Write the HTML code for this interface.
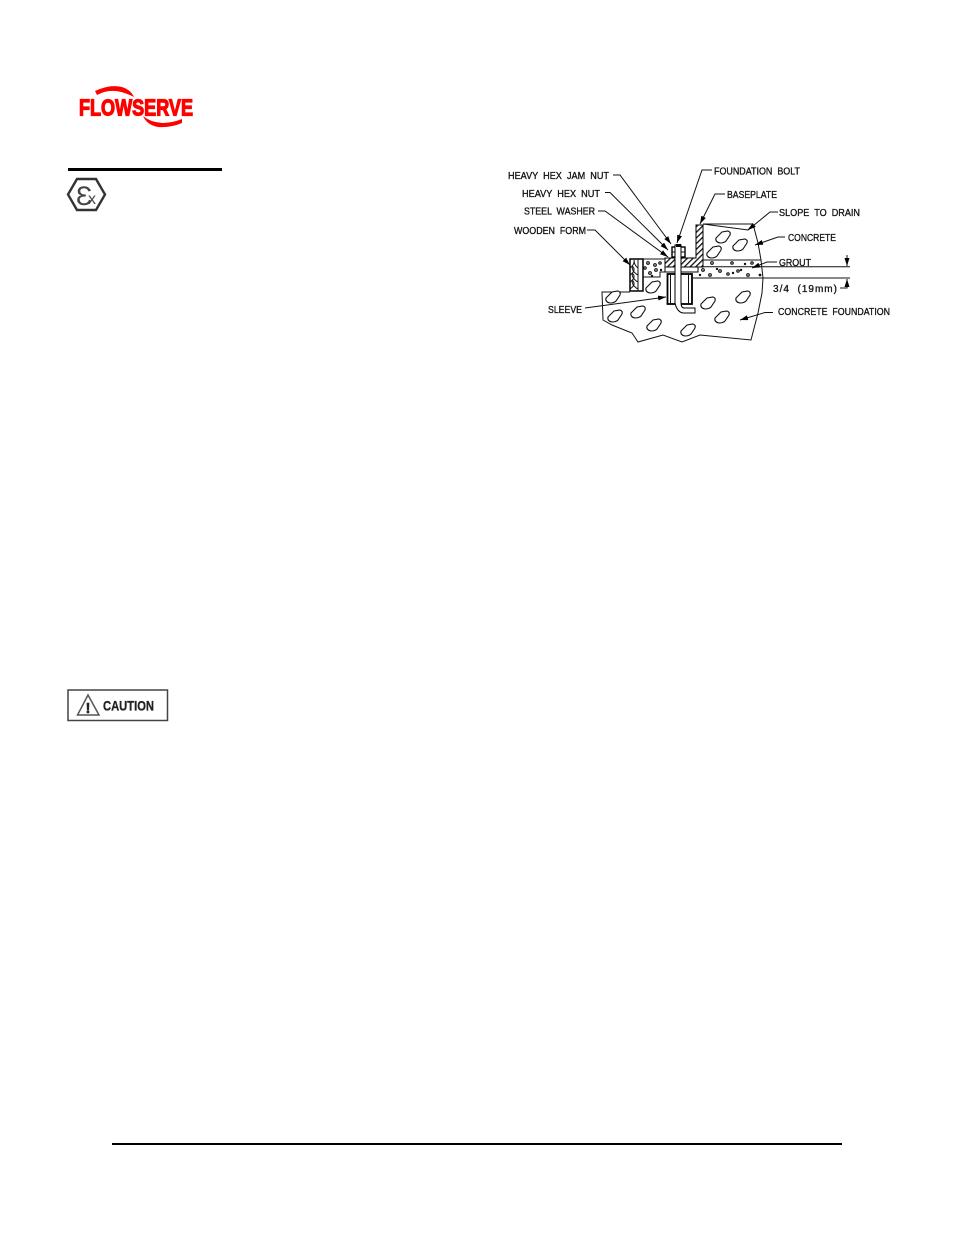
<!DOCTYPE html>
<html><head><meta charset="utf-8"><style>
html,body{margin:0;padding:0;background:#fff}
svg{display:block}
.l{font:10px "Liberation Sans",sans-serif;fill:#111;stroke:#111;stroke-width:.3}
.d{fill:none;stroke:#111;stroke-width:1}
</style></head><body>
<svg width="954" height="1235" viewBox="0 0 954 1235" xmlns="http://www.w3.org/2000/svg">
<defs>
<marker id="a" markerUnits="userSpaceOnUse" markerWidth="9" markerHeight="6" refX="8" refY="2.5" orient="auto"><path d="M0 0L8 2.5L0 5Z" fill="#000"/></marker>
<path id="r" d="M-7 1L-1-5L5-6Q8-5 7-2L3 4Q1 6-3 6Q-8 5-7 1Z" fill="#fff" stroke="#111" stroke-width="1.100"/>
<pattern id="h" width="4" height="4" patternUnits="userSpaceOnUse" patternTransform="rotate(-45)"><rect width="4" height="4" fill="#fff"/><rect width="4" height="1.300" fill="#111"/></pattern>
</defs>
<rect width="954" height="1235" fill="#fff"/>

<!-- logo -->
<text x="79" y="115.500" font-family="Liberation Sans" font-weight="700" font-size="23" textLength="114" lengthAdjust="spacingAndGlyphs" fill="#f00" stroke="#f00" stroke-width="1.200">FLOWSERVE</text>
<path d="M95 91Q110 84 122 87Q131 90 134 97Q124 92 116 91Q106 90 97 95Z" fill="#f00"/>
<path d="M143 116Q150 122 162 123Q172 123 182 119L182 123Q170 128 158 127Q147 125 143 116Z" fill="#f00"/>

<rect x="68" y="168" width="154" height="3" fill="#000"/>
<path d="M68 194.500L77 179H96L105 194.500L96 210H77Z" fill="#fff" stroke="#333" stroke-width="2.400"/>
<text x="76" y="205" font-family="Liberation Sans" font-size="27" fill="#444">Ɛ</text>
<text x="88" y="204" font-family="Liberation Sans" font-size="16" fill="#444">x</text>

<!-- caution -->
<rect x="68" y="690" width="99.500" height="30.500" fill="#fff" stroke="#444" stroke-width="1.500"/>
<path d="M88 695L77.500 715H99Z" fill="#fff" stroke="#555" stroke-width="1.500"/>
<text x="88" y="713" text-anchor="middle" font-family="Liberation Sans" font-weight="700" font-size="15" fill="#222" stroke="#222" stroke-width=".5">!</text>
<text x="103" y="710.500" font-family="Liberation Sans" font-weight="700" font-size="13.500" textLength="51" lengthAdjust="spacingAndGlyphs" fill="#222" stroke="#222" stroke-width=".3">CAUTION</text>

<rect x="112" y="1143" width="730" height="2" fill="#000"/>

<!-- concrete pad -->
<path class="d" d="M703 224H753L758 243L761 260L763 278L762 293L758 313L751 340L700 335L682 342L663 335L638 342L632 333L612 325L603 320L602 292H630"/>
<path class="d" d="M703 224L748 230L753 224"/>
<path class="d" d="M703 260H761"/>
<path class="d" d="M690 266.700H850M693 278H850"/>
<!-- rocks -->
<use href="#r" x="723" y="237"/><use href="#r" x="740" y="245"/><use href="#r" x="714" y="252"/>
<use href="#r" x="743" y="297"/><use href="#r" x="708" y="303"/><use href="#r" x="722" y="317"/>
<use href="#r" x="613" y="297"/><use href="#r" x="615" y="316"/><use href="#r" x="638" y="312"/>
<use href="#r" x="654" y="325"/><use href="#r" x="688" y="330"/><use href="#r" x="653" y="287"/>
<!-- grout speckle -->
<g fill="none" stroke="#111" stroke-width="1.200">
<circle cx="712" cy="263" r="1.300"/><circle cx="732" cy="263" r="1.200"/><circle cx="752" cy="263" r="1.200"/>
<circle cx="703" cy="270" r="1.300"/><circle cx="720" cy="271" r="1.300"/><circle cx="738" cy="271" r="1.200"/><circle cx="710" cy="275" r="1.300"/><circle cx="748" cy="275" r="1.300"/><circle cx="728" cy="274" r="1.200"/>
<circle cx="648" cy="263" r="1.300"/><circle cx="655" cy="265" r="1.300"/><circle cx="660" cy="263" r="1.200"/><circle cx="650" cy="273" r="1.300"/><circle cx="656" cy="270" r="1.300"/><circle cx="645" cy="268" r="1.200"/>
</g>
<g fill="#111"><circle cx="700" cy="275" r="1.200"/><circle cx="733" cy="273" r="1.200"/><circle cx="760" cy="275" r="1.400"/><circle cx="745" cy="264" r="1.200"/><circle cx="717" cy="269" r="1.200"/><circle cx="652" cy="276" r="1.200"/><circle cx="661" cy="270" r="1.200"/><circle cx="741" cy="270" r="1.200"/></g>

<!-- wooden form -->
<rect x="630" y="259" width="13" height="32" fill="#fff" stroke="#000" stroke-width="1.500"/>
<path d="M638 259V291" class="d"/>
<path class="d" d="M630 268Q635 264 634 260M638 268Q634 265 634 260M630 275Q637 270 632 266M638 275Q632 272 632 266M630 282Q637 277 632 273M638 282Q632 279 632 273M630 289Q637 284 632 280M638 289Q632 286 632 280"/>
<path class="d" d="M643 259H668M643 277H660V272H665"/>

<!-- baseplate -->
<path d="M696 225H703V267H665V258H696Z" fill="url(#h)" stroke="#000" stroke-width="1"/>
<rect x="665" y="267" width="33" height="5" fill="#fff" stroke="#000" stroke-width="1"/>
<!-- nuts -->
<rect x="672" y="247" width="13" height="10" fill="#fff" stroke="#000" stroke-width="1.400"/>
<path d="M672 252H685" class="d"/>
<!-- sleeve -->
<rect x="667.500" y="274" width="24.500" height="30" fill="#fff" stroke="#000" stroke-width="1.800"/>
<path class="d" d="M670.500 274V304M688.500 274V304"/>
<!-- bolt -->
<path d="M675 245H681V302Q681 308 684 308H695V313H683Q677 312 675 303Z" fill="#fff" stroke="#000" stroke-width="1"/>
<rect x="676" y="244" width="5" height="3" fill="#000"/>

<!-- leaders -->
<path class="d" d="M613 175H620L671 244" marker-end="url(#a)"/>
<path class="d" d="M605 192.500H610L668 250" marker-end="url(#a)"/>
<path class="d" d="M598 211H605L668 257" marker-end="url(#a)"/>
<path class="d" d="M587 230H595L630 265" marker-end="url(#a)"/>
<path class="d" d="M585 308L666 297" marker-end="url(#a)"/>
<path class="d" d="M712 170H702L677 243" marker-end="url(#a)"/>
<path class="d" d="M725 194H715L700 224" marker-end="url(#a)"/>
<path class="d" d="M778 212H770L748 230" marker-end="url(#a)"/>
<path class="d" d="M785 237H778L755 245" marker-end="url(#a)"/>
<path class="d" d="M777 262H767L752 268" marker-end="url(#a)"/>
<path class="d" d="M773 312.500H765L740 320" marker-end="url(#a)"/>
<path class="d" d="M840 288H847V279" marker-end="url(#a)"/>
<path class="d" d="M847 255V266" marker-end="url(#a)"/>

<!-- labels -->
<text class="l" x="508" y="179" textLength="101" lengthAdjust="spacingAndGlyphs" xml:space="preserve">HEAVY  HEX  JAM  NUT</text>
<text class="l" x="522" y="197" textLength="78" lengthAdjust="spacingAndGlyphs" xml:space="preserve">HEAVY  HEX  NUT</text>
<text class="l" x="524" y="214.500" textLength="71" lengthAdjust="spacingAndGlyphs" xml:space="preserve">STEEL  WASHER</text>
<text class="l" x="514" y="234" textLength="72" lengthAdjust="spacingAndGlyphs" xml:space="preserve">WOODEN  FORM</text>
<text class="l" x="548" y="313" textLength="34" lengthAdjust="spacingAndGlyphs">SLEEVE</text>
<text class="l" x="714" y="174.500" textLength="86" lengthAdjust="spacingAndGlyphs" xml:space="preserve">FOUNDATION  BOLT</text>
<text class="l" x="727" y="198" textLength="50" lengthAdjust="spacingAndGlyphs">BASEPLATE</text>
<text class="l" x="779" y="216" textLength="81" lengthAdjust="spacingAndGlyphs" xml:space="preserve">SLOPE  TO  DRAIN</text>
<text class="l" x="788" y="241" textLength="48" lengthAdjust="spacingAndGlyphs">CONCRETE</text>
<text class="l" x="779" y="266" textLength="32" lengthAdjust="spacingAndGlyphs">GROUT</text>
<text class="l" x="773" y="292" textLength="64" lengthAdjust="spacing" xml:space="preserve">3/4  (19mm)</text>
<text class="l" x="778" y="315" textLength="112" lengthAdjust="spacingAndGlyphs" xml:space="preserve">CONCRETE  FOUNDATION</text>
</svg>
</body></html>
